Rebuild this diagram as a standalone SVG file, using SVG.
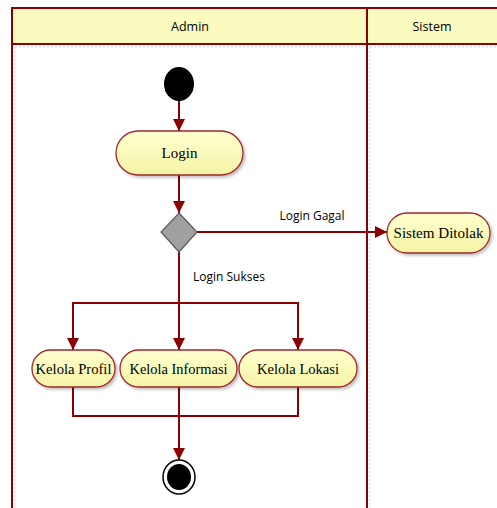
<svg xmlns="http://www.w3.org/2000/svg" width="497" height="508" viewBox="0 0 497 508">
<defs>
<marker id="arr" viewBox="0 0 12 12" refX="12" refY="6" markerWidth="12" markerHeight="12" markerUnits="userSpaceOnUse" orient="auto">
<path d="M0,0 L12,6 L0,12 Z" fill="#8B0000"/>
</marker>
<linearGradient id="ng" x1="0" y1="0" x2="0" y2="1">
<stop offset="0" stop-color="#FFFFD0"/>
<stop offset="1" stop-color="#F4F4A6"/>
</linearGradient>
<filter id="sh" x="-10%" y="-10%" width="130%" height="140%">
<feGaussianBlur in="SourceAlpha" stdDeviation="1.5"/>
<feOffset dx="2" dy="2" result="b"/>
<feComponentTransfer><feFuncA type="linear" slope="0.25"/></feComponentTransfer>
<feMerge><feMergeNode/><feMergeNode in="SourceGraphic"/></feMerge>
</filter>
</defs>
<style>
.lane{fill:none;stroke:#8B0000;stroke-width:2}
.hdr{fill:#FAFABE;stroke:#8B0000;stroke-width:2}
.grid{stroke:#D8D8D8;stroke-width:1;stroke-dasharray:2,2;fill:none}
.act{fill:url(#ng);stroke:#A0282A;stroke-width:1.3;filter:url(#sh)}
.at{font-family:"Liberation Serif",serif;font-size:15px;fill:#000;text-anchor:middle}
.ht{font-family:"Open Sans","Liberation Sans",sans-serif;font-size:12.5px;fill:#000;text-anchor:middle}
.lbl{font-family:"Open Sans","Liberation Sans",sans-serif;font-size:12px;fill:#000;text-anchor:middle}
.c{fill:none;stroke:#8B0000;stroke-width:2}
.ca{fill:none;stroke:#8B0000;stroke-width:2;marker-end:url(#arr)}
</style>
<rect width="497" height="508" fill="#FFFFFF"/>
<g id="swimlanes">
<line class="grid" x1="15" y1="47" x2="364" y2="47"/>
<line class="grid" x1="15" y1="47" x2="15" y2="508"/>
<line class="grid" x1="370" y1="47" x2="497" y2="47"/>
<line class="grid" x1="370" y1="47" x2="370" y2="508"/>
<rect class="hdr" x="12" y="8" width="490" height="36"/>
<line class="lane" x1="12" y1="44" x2="12" y2="510"/>
<line class="lane" x1="367" y1="8" x2="367" y2="510"/>
<text class="ht" x="190" y="31">Admin</text>
<text class="ht" x="432" y="31">Sistem</text>
</g>
<g id="connectors">
<line class="ca" x1="179" y1="101" x2="179" y2="131"/>
<line class="ca" x1="179" y1="175" x2="179" y2="213"/>
<line class="ca" x1="197" y1="232" x2="387" y2="232"/>
<line class="ca" x1="179" y1="252" x2="179" y2="350"/>
<polyline class="c" points="73,350 73,303 298,303 298,350" style="marker-start:none"/>
<line class="ca" x1="73" y1="320" x2="73" y2="350"/>
<line class="ca" x1="298" y1="320" x2="298" y2="350"/>
<polyline class="c" points="73,387 73,416 298,416 298,387"/>
<line class="ca" x1="179" y1="387" x2="179" y2="460"/>
<text class="lbl" x="312" y="220">Login Gagal</text>
<text class="lbl" x="229" y="281">Login Sukses</text>
</g>
<g id="start">
<ellipse cx="179" cy="84" rx="15" ry="17" fill="#000"/>
</g>
<g id="login">
<rect class="act" x="116" y="131" width="127" height="44" rx="22"/>
<text class="at" x="179.5" y="158">Login</text>
</g>
<g id="decision">
<polygon points="179,213 197,232 179,252 161,232" fill="#A0A0A0" stroke="#5A5A5A" stroke-width="1.2"/>
</g>
<g id="sistem-ditolak">
<rect class="act" x="387" y="213" width="103" height="40" rx="20"/>
<text class="at" x="438.5" y="238" textLength="90" lengthAdjust="spacingAndGlyphs">Sistem Ditolak</text>
</g>
<g id="kelola-profil">
<rect class="act" x="32" y="350" width="83" height="37" rx="18.5"/>
<text class="at" x="73.5" y="374" textLength="76" lengthAdjust="spacingAndGlyphs">Kelola Profil</text>
</g>
<g id="kelola-informasi">
<rect class="act" x="120" y="350" width="117" height="37" rx="18.5"/>
<text class="at" x="178.5" y="374" textLength="98" lengthAdjust="spacingAndGlyphs">Kelola Informasi</text>
</g>
<g id="kelola-lokasi">
<rect class="act" x="239" y="350" width="118" height="37" rx="18.5"/>
<text class="at" x="298" y="374" textLength="82" lengthAdjust="spacingAndGlyphs">Kelola Lokasi</text>
</g>
<g id="end">
<ellipse cx="179" cy="477" rx="16" ry="17" fill="#FFFFFF" stroke="#000" stroke-width="1.5"/>
<ellipse cx="179" cy="477" rx="12" ry="13" fill="#000"/>
</g>
</svg>
